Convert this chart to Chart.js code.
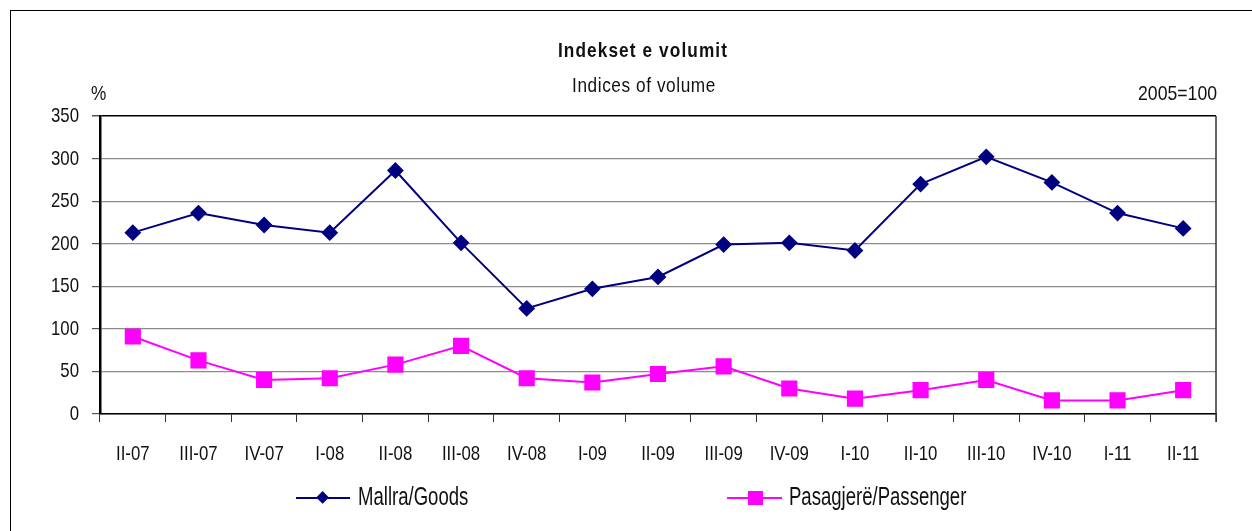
<!DOCTYPE html>
<html>
<head>
<meta charset="utf-8">
<script src="https://cdn.jsdelivr.net/npm/chart.js@4.4.1/dist/chart.umd.min.js"></script>
<style>
  body { margin: 0; background: #fff; }
  #wrap { position: relative; width: 1252px; height: 531px; overflow: hidden;
          font-family: 'Liberation Sans', Arial, sans-serif; color: #111; }
  #frame { position: absolute; left: 10px; top: 10px; width: 1300px; height: 600px; border: 1px solid #000; box-sizing: border-box; }
  canvas { position: absolute; left: 0; top: 0; }
  .txt { position: absolute; font-size: 21px; line-height: 21px; white-space: nowrap; }
  .lg { position: absolute; font-size: 26.5px; line-height: 26.5px; white-space: nowrap; transform: scaleX(0.7); transform-origin: left top; }
  .ln { position: absolute; height: 2px; }
  .mk { position: absolute; }
</style>
</head>
<body>
<div id="wrap">
  <div id="frame"></div>
  <canvas id="chart" width="1252" height="531"></canvas>
  <div class="txt" style="left:442.5px;width:400px;text-align:center;top:39px;font-weight:bold;letter-spacing:1.35px;transform:scaleX(0.82);">Indekset e volumit</div>
  <div class="txt" style="left:443.5px;width:400px;text-align:center;top:74px;letter-spacing:0.7px;transform:scaleX(0.82);">Indices of volume</div>
  <div class="txt" style="left:91px;top:82px;transform:scaleX(0.82);transform-origin:left top;">%</div>
  <div class="txt" style="right:35px;top:82px;transform:scaleX(0.84);transform-origin:right top;">2005=100</div>

  <div class="ln" style="left:296px;top:497px;width:54px;background:#000080;"></div>
  <div class="mk" style="left:318.4px;top:493.4px;width:9.2px;height:9.2px;background:#000080;transform:rotate(45deg);"></div>
  <div class="lg" style="left:358px;top:482.5px;">Mallra/Goods</div>

  <div class="ln" style="left:727px;top:497px;width:55px;background:#ff00ff;"></div>
  <div class="mk" style="left:747.5px;top:491px;width:15px;height:14px;background:#ff00ff;"></div>
  <div class="lg" style="left:789px;top:482.5px;">Pasagjerë/Passenger</div>
</div>
<script>
const quarters = ['II-07', 'III-07', 'IV-07', 'I-08', 'II-08', 'III-08', 'IV-08', 'I-09', 'II-09',
  'III-09', 'IV-09', 'I-10', 'II-10', 'III-10', 'IV-10', 'I-11', 'II-11'];
const goods = [213, 236, 222, 213, 286, 201, 124, 147, 161, 199, 201, 192, 270, 302, 272, 236, 218];
const passenger = [91, 63, 40, 42, 58, 80, 42, 37, 47, 56, 30, 18, 28, 40, 16, 16, 28];
const yTicks = [0, 50, 100, 150, 200, 250, 300, 350];

// the original uses a narrow face, so labels are drawn squeezed horizontally
function narrowText(c, text, x, y, align) {
  c.save();
  c.translate(x, y);
  c.scale(0.8, 1);
  c.textAlign = align;
  c.textBaseline = 'alphabetic';
  c.fillText(text, 0, 0);
  c.restore();
}

const narrowLabels = {
  id: 'narrowLabels',
  afterDraw(chart) {
    const c = chart.ctx;
    const xs = chart.scales.x;
    const ys = chart.scales.y;
    c.save();
    c.fillStyle = '#111';
    c.font = "21px 'Liberation Sans', Arial, sans-serif";
    xs.ticks.forEach((t, i) => narrowText(c, quarters[i], xs.getPixelForTick(i), 460, 'center'));
    ys.ticks.forEach(t => narrowText(c, String(t.value), xs.left - 21, ys.getPixelForValue(t.value) + 6, 'right'));

    // right-hand frame of the plot area
    const a = chart.chartArea;
    c.strokeStyle = '#333';
    c.lineWidth = 1.5;
    c.beginPath();
    c.moveTo(a.right, a.top);
    c.lineTo(a.right, a.bottom + 8);
    c.stroke();
    c.restore();
  }
};

new Chart(document.getElementById('chart'), {
  type: 'line',
  data: {
    labels: quarters,
    datasets: [{
      label: 'Mallra/Goods',
      data: goods,
      borderColor: '#000080',
      backgroundColor: '#000080',
      borderWidth: 2,
      pointStyle: 'rectRot',
      pointRadius: 7,
      pointHoverRadius: 7,
      tension: 0
    }, {
      label: 'Pasagjerë/Passenger',
      data: passenger,
      borderColor: '#ff00ff',
      backgroundColor: '#ff00ff',
      borderWidth: 2,
      pointStyle: 'rect',
      pointRadius: 10,
      pointHoverRadius: 10,
      tension: 0
    }]
  },
  options: {
    responsive: false,
    animation: false,
    layout: { padding: { left: 10, right: 36, top: 116, bottom: 0 } },
    plugins: {
      legend: { display: false },
      title: { display: false },
      tooltip: { enabled: false }
    },
    scales: {
      x: {
        offset: true,
        afterFit: s => { s.height = 117; },
        grid: { drawOnChartArea: false, tickLength: 8, color: '#333', offset: true },
        border: { color: '#000', width: 1.5 },
        ticks: { display: false, autoSkip: false }
      },
      y: {
        min: 0,
        max: 350,
        afterFit: s => { s.width = 90; },
        afterBuildTicks: s => { s.ticks = yTicks.map(v => ({ value: v })); },
        grid: {
          color: c => (c.tick && c.tick.value === 350) ? '#000' : '#8c8c8c',
          lineWidth: c => (c.tick && c.tick.value === 350) ? 1.5 : 1.2,
          tickColor: '#555',
          tickLength: 8
        },
        border: { color: '#000', width: 2.5 },
        ticks: { display: false }
      }
    }
  },
  plugins: [narrowLabels]
});
</script>
</body>
</html>
